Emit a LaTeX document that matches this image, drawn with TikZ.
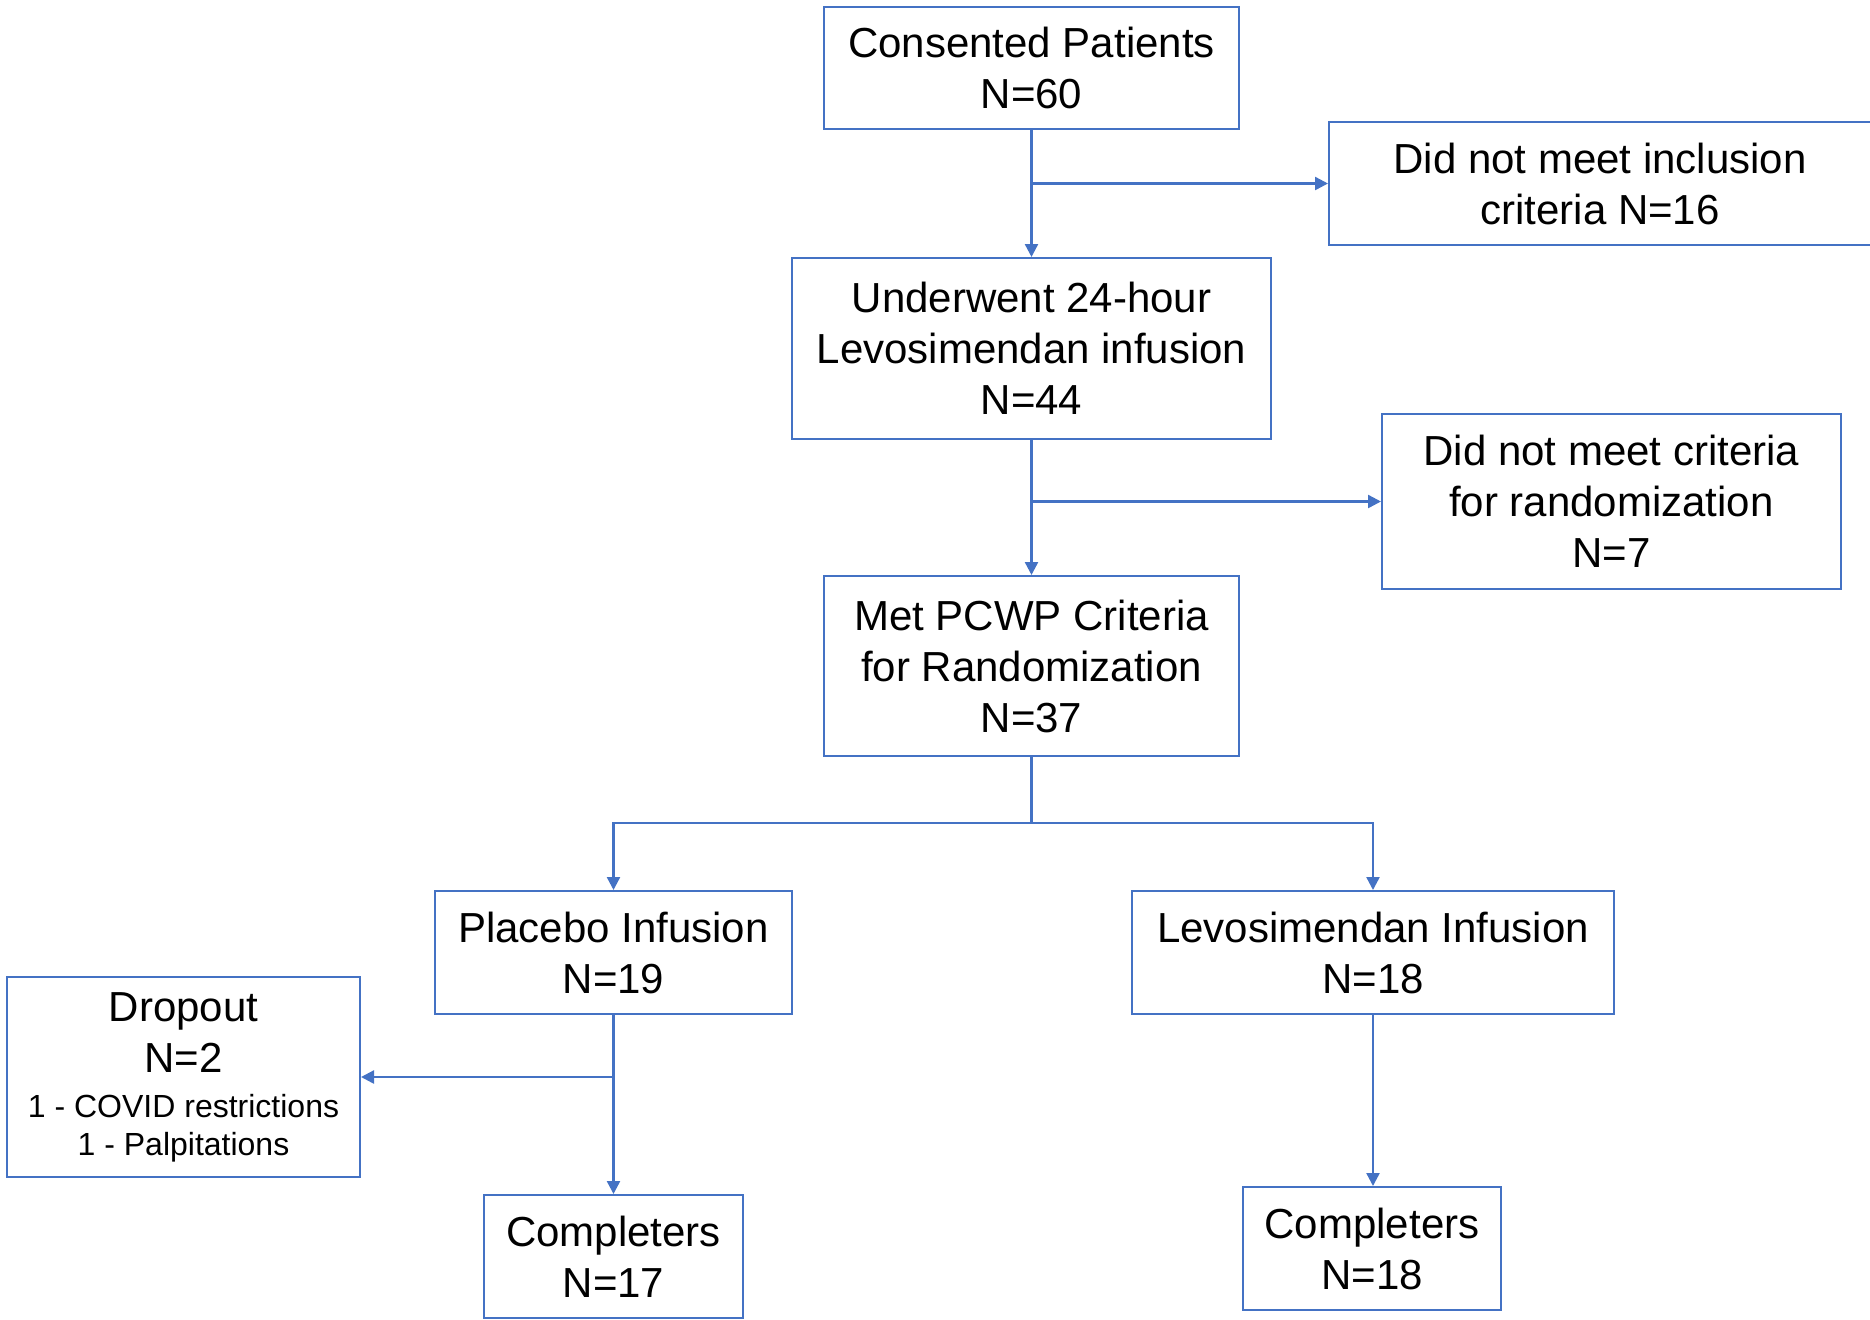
\documentclass[tikz,border=0pt]{standalone}
\usepackage{fontspec}
\setmainfont{Liberation Sans}
\usetikzlibrary{arrows.meta, positioning, calc}

\definecolor{flowblue}{HTML}{4472C4}

\begin{document}
\begin{tikzpicture}[
        x=0.5pt, y=-0.5pt,
        font=\fontsize{21}{25.5}\selectfont,
        box/.style={rectangle, draw=flowblue, line width=1pt, fill=white,
                    inner sep=2pt, align=center},
        arr/.style={-{Triangle[width=6.5pt, length=6.5pt]}, draw=flowblue, line width=1.2pt}
    ]

    \useasboundingbox (0,0) rectangle (1870,1319);

    % Screening
    \node[box, minimum width=207.5pt, minimum height=61pt]  (consent) at (1031.5,68)   {Consented Patients\\N=60};
    \node[box, minimum width=271pt,   minimum height=61.5pt] (excl1)  at (1600,183.5)  {Did not meet inclusion\\criteria N=16};
    \node[box, minimum width=239.5pt, minimum height=90.5pt] (infuse) at (1031.5,348.5) {Underwent 24-hour\\Levosimendan infusion\\N=44};
    \node[box, minimum width=229.5pt, minimum height=87.5pt] (excl2)  at (1611.5,501.5) {Did not meet criteria\\for randomization\\N=7};
    \node[box, minimum width=207.5pt, minimum height=90pt]   (pcwp)   at (1031.5,666)   {Met PCWP Criteria\\for Randomization\\N=37};

    % Randomized arms
    \node[box, minimum width=178.5pt, minimum height=61.5pt] (placebo) at (613.5,952.5) {Placebo Infusion\\N=19};
    \node[box, minimum width=241pt,   minimum height=61.5pt] (levo)    at (1373,952.5)  {Levosimendan Infusion\\N=18};
    \node[box, minimum width=176.5pt, minimum height=100pt]  (dropout) at (183.5,1077)  {Dropout\\N=2\\[-3pt]
        {\fontsize{16}{19}\selectfont 1 - COVID restrictions}\\[-6.5pt]
        {\fontsize{16}{19}\selectfont 1 - Palpitations}};
    \node[box, minimum width=129.5pt, minimum height=61.5pt] (compl)   at (613.5,1256.5) {Completers\\N=17};
    \node[box, minimum width=129pt,   minimum height=61.5pt] (compr)   at (1372,1248.5)  {Completers\\N=18};

    % Junctions
    \coordinate (j1) at (consent.south |- excl1.west);
    \coordinate (j2) at (infuse.south |- excl2.west);
    \coordinate (split) at (1031.5,823);
    \coordinate (j3) at (placebo.south |- dropout.east);

    % Main flow
    \draw[arr] (consent.south) -- (infuse.north);
    \draw[arr] (j1) -- (excl1.west);
    \draw[arr] (infuse.south) -- (pcwp.north);
    \draw[arr] (j2) -- (excl2.west);
    \draw[arr] (pcwp.south) -- (split) -| (placebo.north);
    \draw[arr] (split) -| (levo.north);

    % Follow-up
    \draw[arr] (placebo.south) -- (compl.north);
    \draw[arr] (j3) -- (dropout.east);
    \draw[arr] (levo.south) -- (levo.south |- compr.north);

\end{tikzpicture}
\end{document}
